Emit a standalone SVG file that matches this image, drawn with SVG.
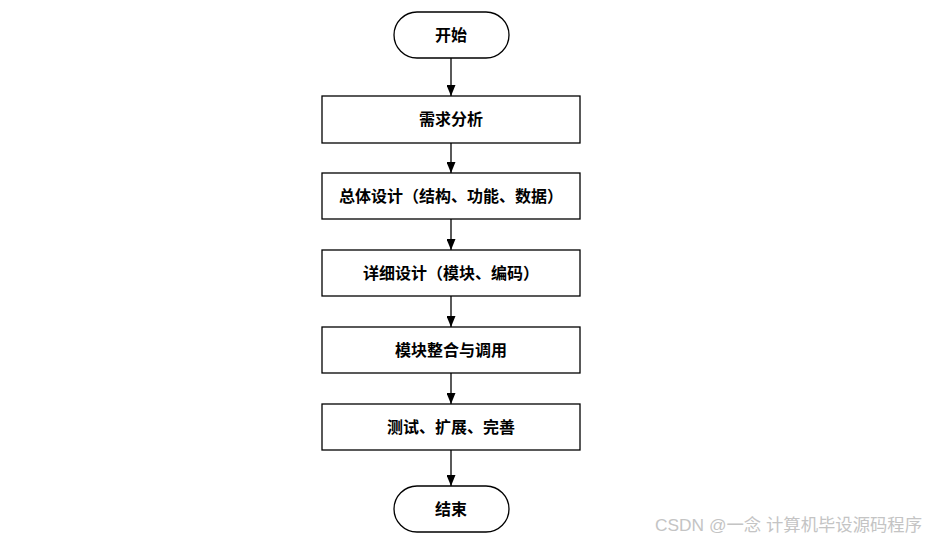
<svg xmlns="http://www.w3.org/2000/svg" width="926" height="541" viewBox="0 0 926 541">
<style>
.box{fill:#fff;stroke:#000;stroke-width:1.3}
.t{font-family:"Liberation Serif","Noto Sans CJK SC",serif;font-size:16px;font-weight:bold;fill:#000;text-anchor:middle;dominant-baseline:central}
.c{stroke:#000;stroke-width:1.3;fill:none;marker-end:url(#ah)}
.wm{font-family:"Liberation Sans","Noto Sans CJK SC",sans-serif;font-size:17px;fill:#c4c4c4}
</style>
<defs>
<marker id="ah" markerWidth="11" markerHeight="9" refX="11" refY="4.5" orient="auto" markerUnits="userSpaceOnUse" viewBox="0 0 11 9">
<path d="M0,0 L11,4.5 L0,9 Z" fill="#000"/>
</marker>
</defs>
<rect width="926" height="541" fill="#fff"/>
<g id="connectors">
<path class="c" d="M451,58 V96"/>
<path class="c" d="M451,143 V173"/>
<path class="c" d="M451,219 V250"/>
<path class="c" d="M451,296 V327"/>
<path class="c" d="M451,373 V404"/>
<path class="c" d="M451,450 V486"/>
</g>
<g id="start"><rect class="box" x="394" y="12" width="115" height="46" rx="23"/><text class="t" x="451" y="35">开始</text></g>
<g id="n1"><rect class="box" x="322" y="96" width="258" height="47"/><text class="t" x="451" y="119.5">需求分析</text></g>
<g id="n2"><rect class="box" x="322" y="173" width="258" height="46"/><text class="t" x="451" y="196">总体设计（结构、功能、数据）</text></g>
<g id="n3"><rect class="box" x="322" y="250" width="258" height="46"/><text class="t" x="451" y="273">详细设计（模块、编码）</text></g>
<g id="n4"><rect class="box" x="322" y="327" width="258" height="46"/><text class="t" x="451" y="350">模块整合与调用</text></g>
<g id="n5"><rect class="box" x="322" y="404" width="258" height="46"/><text class="t" x="451" y="427">测试、扩展、完善</text></g>
<g id="end"><rect class="box" x="394" y="486" width="115" height="46" rx="23"/><text class="t" x="451" y="509">结束</text></g>
<text class="wm" x="655" y="531" textLength="267" lengthAdjust="spacingAndGlyphs">CSDN @一念 计算机毕设源码程序</text>
</svg>
